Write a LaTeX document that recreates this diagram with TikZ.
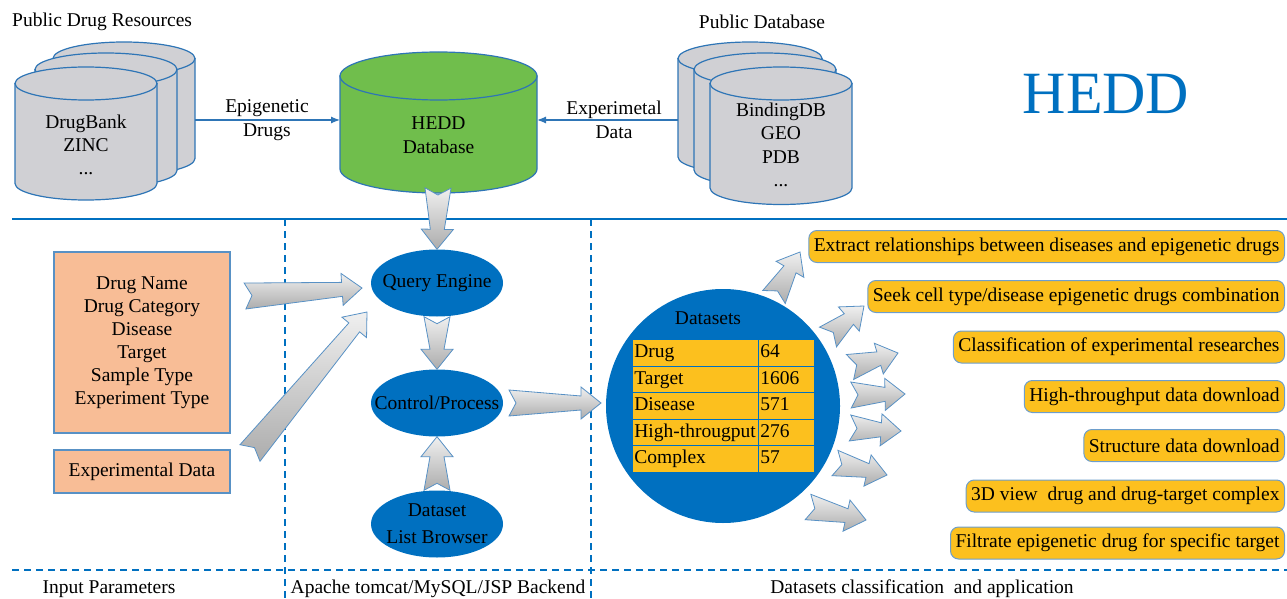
\documentclass[tikz,border=0pt]{standalone}
\usepackage{fontspec}
\setmainfont{Liberation Serif}
\usetikzlibrary{calc,shapes.geometric,arrows.meta}
\definecolor{lblue}{RGB}{0,112,192}
\definecolor{oblue}{RGB}{46,117,182}
\definecolor{cgray}{RGB}{208,208,212}
\definecolor{dbgreen}{RGB}{112,190,76}
\definecolor{salmon}{RGB}{248,189,150}
\definecolor{gold}{RGB}{252,192,30}
\newcommand\cylsh[6]{%
  \draw[cyl, fill=#6] (#1-#4,#2) -- (#1-#4,#3) arc[start angle=180, end angle=360, x radius=#4pt, y radius=#5pt] -- (#1+#4,#2) -- cycle;
  \draw[cyl, fill=#6] (#1,#2) ellipse[x radius=#4pt, y radius=#5pt];}
\newcommand\fatarr[2]{%
  \draw[fatarrow] ($(#1)!13pt!90:(#2)$) -- ($(#2)!20pt!(#1)!7pt!-90:(#1)$) -- ($(#2)!20pt!(#1)!16pt!-90:(#1)$) -- (#2) -- ($(#2)!20pt!(#1)!16pt!90:(#1)$) -- ($(#2)!20pt!(#1)!7pt!90:(#1)$) -- ($(#1)!13pt!-90:(#2)$) -- ($(#1)!7pt!(#2)$) -- cycle;}
\begin{document}
\begin{tikzpicture}[x=1pt,y=-1pt,
  every node/.style={font=\fontsize{19.5}{23}\selectfont, inner sep=0pt},
  cyl/.style={draw=oblue, line width=1.2pt},
  conn/.style={draw=oblue, line width=1.2pt, -{Latex[length=9pt,width=7pt]}},
  fatarrow/.style={draw=oblue!80, line width=0.8pt, top color=gray!12, bottom color=gray!65},
  inbox/.style={draw=oblue!80, line width=1.2pt, fill=salmon, minimum width=176pt, align=center},
  proc/.style={ellipse, fill=lblue, minimum width=132pt, minimum height=67pt},
  app/.style={draw=oblue!70, line width=1pt, fill=gold, rounded corners=8pt, minimum height=32pt, inner xsep=5pt, anchor=east},
  sep/.style={draw=lblue, line width=1.5pt},
  dsep/.style={draw=lblue, line width=1.5pt, dash pattern=on 7pt off 5pt},
  cell/.style={draw=lblue, line width=0.8pt, fill=gold, anchor=north west, minimum height=26.6pt, inner xsep=2pt, align=left, text height=14pt, text depth=4.5pt}
]
\useasboundingbox (0,0) rectangle (1287,599);

% ---- top part ----
\node[anchor=west] (t1) at (12,22) {Public Drug Resources};
\node (t2) at (762,22) {Public Database};

\cylsh{124}{58.5}{158.5}{71}{16.5}{cgray}
\cylsh{106}{69.5}{170.5}{71}{16.5}{cgray}
\cylsh{86}{83.5}{183.5}{71}{16.5}{cgray}
\node[align=center, font=\fontsize{19.5}{23}\selectfont] (lsrc) at (86,145) {DrugBank\\ZINC\\...};

\cylsh{750}{58.5}{157}{72}{16.5}{cgray}
\cylsh{765}{69.5}{170}{71}{16.5}{cgray}
\cylsh{781}{83.5}{188}{71}{16.5}{cgray}
\node[align=center, font=\fontsize{19.5}{23.5}\selectfont] (rsrc) at (781,145) {BindingDB\\GEO\\PDB\\...};

\cylsh{438.5}{76}{169}{98.5}{24}{dbgreen}
\node[align=center, font=\fontsize{19.5}{24}\selectfont] (hdb) at (438.5,135) {HEDD\\Database};

\coordinate (lgR) at (195,120);
\coordinate (hL) at (340,120);
\coordinate (rgL) at (678,120);
\coordinate (hR) at (537,120);
\draw[conn] (lgR) -- (hL);
\draw[conn] (rgL) -- (hR);
\node[align=center, font=\fontsize{19.5}{24}\selectfont] (l1) at (267,120) {Epigenetic\\Drugs};
\node[align=center, font=\fontsize{19.5}{24}\selectfont] (l2) at (614,120) {Experimetal\\Data};

\node[font=\fontsize{60}{60}\selectfont, text=lblue] (title) at (1106,94) {HEDD};

% ---- separators ----
\draw[sep] (12,219) -- (1287,219);
\draw[dsep] (12,570) -- (1287,570);
\draw[dsep] (285,219) -- (285,599);
\draw[dsep] (591,219) -- (591,599);

% ---- input ----
\node[inbox, minimum height=181pt, font=\fontsize{19.5}{23}\selectfont] (ip) at (142,342.5) {Drug Name\\Drug Category\\Disease\\Target\\Sample Type\\Experiment Type};
\node[inbox, minimum height=43pt] (ex) at (142,471.5) {Experimental Data};

% ---- backend ----
\node[proc, label={center:Query Engine}] (qe) at (437,283) {};
\node[proc, label={center:Control/Process}] (cp) at (437,403) {};
\node[proc, label={[align=center, font=\fontsize{19.5}{27}\selectfont]center:Dataset\\List Browser}] (dl) at (437,524) {};

\coordinate (hb) at (438,188);
\fatarr{hb}{qe.north}
\fatarr{qe.south}{cp.north}
\fatarr{dl.north}{cp.south}
\coordinate (a1t) at (245,296);
\coordinate (a1h) at (362,288);
\fatarr{a1t}{a1h}
\coordinate (a2t) at (250,453);
\coordinate (a2h) at (367,312);
\fatarr{a2t}{a2h}

% ---- datasets ----
\node[circle, fill=lblue, minimum size=234pt] (ds) at (723,406) {};
\node (dst) at (708,318) {Datasets};
\foreach \nm/\vl [count=\k from 0] in {Drug/64, Target/1606, Disease/571, High-througput/276, Complex/57}{
  \node[cell, text width=122pt, minimum width=126pt] (cl\k) at (632,339+\k*26.6) {\nm};
  \node[cell, text width=52pt, minimum width=56pt] (cr\k) at (758,339+\k*26.6) {\vl};
}
\coordinate (a3t) at (509,403);
\coordinate (a3h) at (601,403);
\fatarr{a3t}{a3h}

\coordinate (r1t) at (774,297); \coordinate (r1h) at (800,252);
\coordinate (r2t) at (828,337); \coordinate (r2h) at (864,306);
\coordinate (r3t) at (850,367); \coordinate (r3h) at (898,353);
\coordinate (r4t) at (851,395); \coordinate (r4h) at (905,394);
\coordinate (r5t) at (850,428); \coordinate (r5h) at (901,431);
\coordinate (r6t) at (835,463); \coordinate (r6h) at (887,475);
\coordinate (r7t) at (808,507); \coordinate (r7h) at (866,520);
\foreach \i in {1,...,7}{\fatarr{r\i t}{r\i h}}

\node[app] (b1) at (1285,246.5) {Extract relationships between diseases and epigenetic drugs};
\node[app] (b2) at (1285,296.5) {Seek cell type/disease epigenetic drugs combination};
\node[app] (b3) at (1285,347) {Classification of experimental researches};
\node[app] (b4) at (1285,396.5) {High-throughput data download};
\node[app] (b5) at (1285,445.5) {Structure data download};
\node[app] (b6) at (1285,496) {3D view~ drug and drug-target complex};
\node[app] (b7) at (1285,543) {Filtrate epigenetic drug for specific target};

% ---- bottom labels ----
\node (lab1) at (109,589) {Input Parameters};
\node (lab2) at (438,589) {Apache tomcat/MySQL/JSP Backend};
\node (lab3) at (922,589) {Datasets classification~ and application};
\end{tikzpicture}
\end{document}
